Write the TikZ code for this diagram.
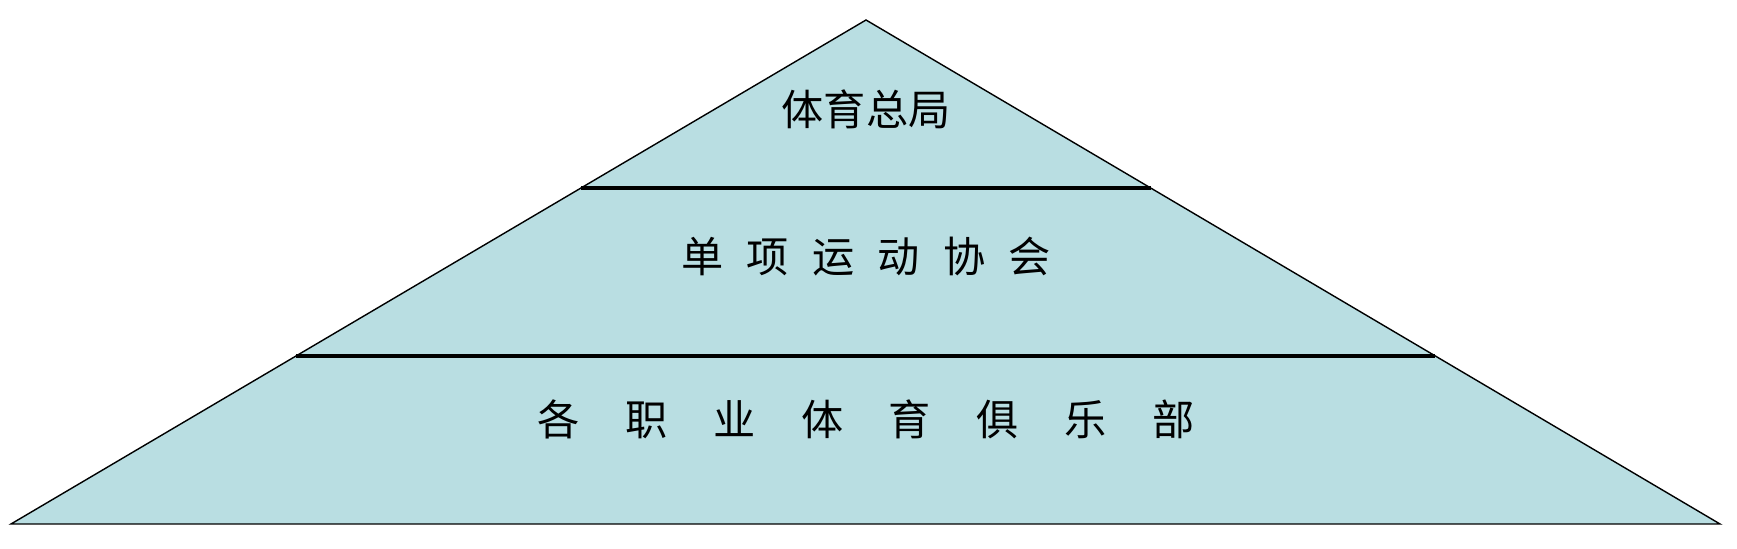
\documentclass[tikz,border=0pt]{standalone}
\usepackage{fontspec}
\newfontfamily\cjk{Noto Sans CJK SC}
\usetikzlibrary{positioning,calc}
\definecolor{pyrfill}{RGB}{185,222,226}
\newcommand{\hs}{\hspace{0.55em}}
\newcommand{\hw}{\hspace{1.08em}}

\begin{document}
\begin{tikzpicture}[
  x=0.01cm, y=0.01cm,
  edge/.style={draw=black, line width=0.4pt},
  sep/.style={draw=black, line width=0.9pt},
  lbl/.style={font=\cjk\fontsize{12}{14}\selectfont, inner sep=0pt}
]
  \useasboundingbox (0,0) rectangle (1737,549);

  % corners of the pyramid
  \coordinate (top) at (866,529);
  \coordinate (bl) at (11,25);
  \coordinate (br) at (1720,25);
  \coordinate (l1) at ($(bl)!0.6667!(top)$);
  \coordinate (r1) at ($(br)!0.6667!(top)$);
  \coordinate (l2) at ($(bl)!0.3333!(top)$);
  \coordinate (r2) at ($(br)!0.3333!(top)$);

  \fill[pyrfill] (top) -- (bl) -- (br) -- cycle;
  \draw[edge] (top) -- (bl) -- (br) -- cycle;
  \draw[sep] (l1) -- (r1);
  \draw[sep] (l2) -- (r2);

  \node[lbl] (bureau) at (866,440) {体育总局};
  \node[lbl] (assoc) at (866,292)
    {单\hs 项\hs 运\hs 动\hs 协\hs 会};
  \node[lbl] (clubs) at (866,130)
    {各\hw 职\hw 业\hw 体\hw 育\hw 俱\hw 乐\hw 部};
\end{tikzpicture}
\end{document}
